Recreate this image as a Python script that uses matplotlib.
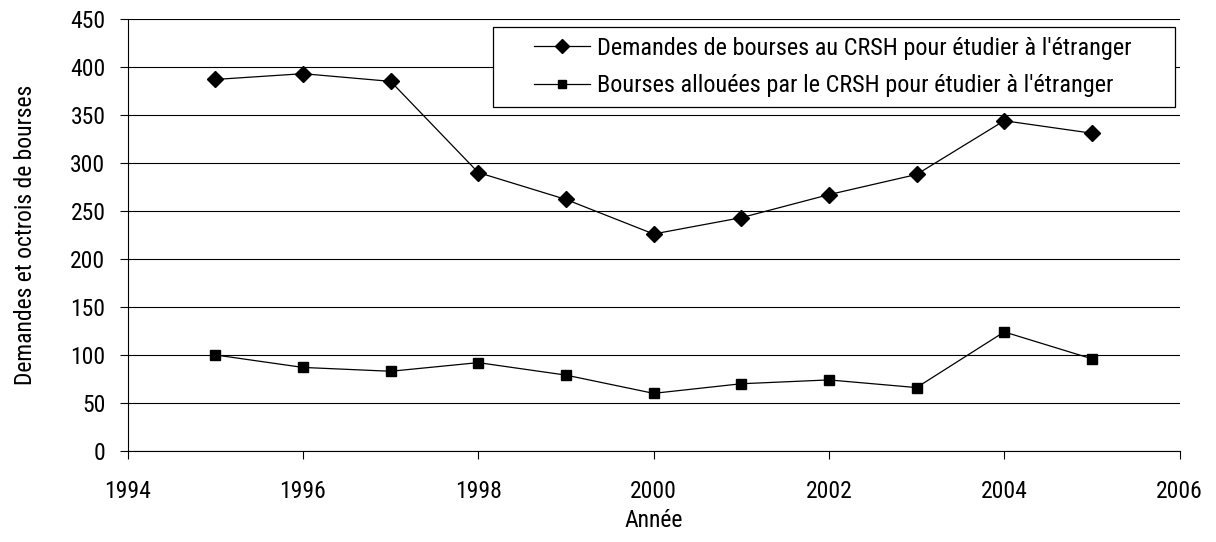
import matplotlib
matplotlib.use('Agg')
from matplotlib import pyplot as plt
from matplotlib.legend_handler import HandlerLine2D

annees = [1995, 1996, 1997, 1998, 1999, 2000, 2001, 2002, 2003, 2004, 2005]
demandes = [387, 393, 385, 290, 262, 226, 243, 267, 288, 344, 331]
bourses = [100, 87, 83, 92, 79, 60, 70, 74, 66, 124, 96]

plt.rcParams['font.family'] = ['Roboto Condensed', 'Liberation Sans Narrow',
                               'Roboto', 'DejaVu Sans']
plt.rcParams['font.stretch'] = 'condensed'

fig = plt.figure(figsize=(12.16, 5.42), dpi=100)
ax = fig.add_axes([0.105, 0.168, 0.865, 0.797])

l1, = ax.plot(annees, demandes, color='black', linewidth=0.9, marker='D',
              markersize=8, label="Demandes de bourses au CRSH pour étudier à l'étranger")
l2, = ax.plot(annees, bourses, color='black', linewidth=0.9, marker='s',
              markersize=7, label="Bourses allouées par le CRSH pour étudier à l'étranger")

ax.set_xlim(1994, 2006)
ax.set_ylim(0, 450)
ax.set_xticks(range(1994, 2007, 2))
ax.set_yticks(range(0, 451, 50))
ax.yaxis.grid(True, color='black', linewidth=0.8)
ax.set_axisbelow(True)
ax.spines['top'].set_visible(False)
ax.spines['right'].set_visible(False)
ax.tick_params(labelsize=17, length=6, direction='out')
ax.tick_params(axis='x', pad=15)
ax.tick_params(axis='y', pad=10)

ax.set_xlabel('Année', fontsize=17, labelpad=4)
ax.set_ylabel('Demandes et octrois de bourses', fontsize=17, labelpad=24)

# handles pushed to the right like in the original legend
hmap = {l1: HandlerLine2D(xpad=1.3), l2: HandlerLine2D(xpad=1.3)}
leg = ax.legend(loc='upper left', fontsize=17.5, frameon=True, fancybox=False,
                edgecolor='black', framealpha=1, handlelength=3.6,
                handletextpad=0.3, borderpad=0.4, labelspacing=0.6,
                borderaxespad=0, mode='expand', handler_map=hmap,
                markerscale=0.9,
                bbox_to_anchor=(0.347, 0.5, 0.649, 0.4815))
leg.get_frame().set_linewidth(0.9)

fig.savefig('out.png', dpi=100)
